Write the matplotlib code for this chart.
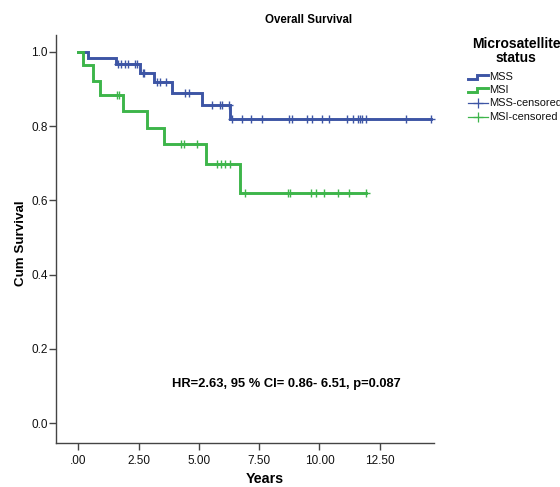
import matplotlib
matplotlib.use("Agg")
import matplotlib.pyplot as plt
from matplotlib.lines import Line2D
import numpy as np

plt.rcParams['font.family'] = ['Liberation Sans', 'DejaVu Sans']

# ---- data ----
mss_times = [0.0, 0.38, 1.54, 2.55, 3.15, 3.87, 5.14, 6.30, 14.61]
mss_surv = [1.0, 0.984, 0.967, 0.942, 0.918, 0.889, 0.857, 0.819, 0.819]
mss_censor = [1.65, 1.75, 1.93, 2.07, 2.34, 2.44, 2.66, 2.72, 3.24, 3.37, 3.63,
              4.42, 4.59, 5.55, 5.87, 5.94, 6.26, 6.38, 6.80, 7.16, 7.63,
              8.74, 8.87, 9.49, 9.70, 10.12, 10.39, 11.13, 11.38, 11.61, 11.68,
              11.78, 11.92, 13.58, 14.61]

msi_times = [0.0, 0.17, 0.59, 0.89, 1.86, 2.85, 3.55, 5.28, 6.70, 11.93]
msi_surv = [1.0, 0.964, 0.922, 0.883, 0.840, 0.796, 0.751, 0.697, 0.619, 0.619]
msi_censor = [1.61, 1.69, 4.24, 4.38, 4.90, 5.73, 5.90, 6.08, 6.29, 6.91,
              8.68, 8.78, 9.65, 9.85, 10.19, 10.77, 11.22, 11.93]

x_ticks = [0, 2.5, 5, 7.5, 10, 12.5]
x_ticklabels = ['.00', '2.50', '5.00', '7.50', '10.00', '12.50']
y_ticks = [0.0, 0.2, 0.4, 0.6, 0.8, 1.0]
y_ticklabels = ['0.0', '0.2', '0.4', '0.6', '0.8', '1.0']

group_labels = ['MSS', 'MSI', 'MSS-censored', 'MSI-censored']
legend_title = 'Microsatellite\nstatus'
annotation = 'HR=2.63, 95 % CI= 0.86- 6.51, p=0.087'

MSS_COLOR = '#3D55A5'
MSI_COLOR = '#3DB54A'

W, H = 560, 487
fig = plt.figure(figsize=(W / 100, H / 100), dpi=100)
L, R, T, B = 56, 434, 35, 443
ax = fig.add_axes([L / W, 1 - B / H, (R - L) / W, (B - T) / H])


def step_value(times, surv, t):
    idx = np.searchsorted(times, t, side='right') - 1
    return np.asarray(surv)[idx]


for times, surv, cens, col in [(mss_times, mss_surv, mss_censor, MSS_COLOR),
                               (msi_times, msi_surv, msi_censor, MSI_COLOR)]:
    ax.step(times, surv, where='post', color=col, lw=2.1, solid_joinstyle='miter',
            clip_on=False)
    cy = step_value(times, surv, cens)
    ax.plot(cens, cy, ls='none', marker='+', ms=6, mew=1.0, color=col, clip_on=False)

ax.set_xlim(-0.93, 14.75)
ax.set_ylim(-0.053, 1.045)
ax.set_xticks(x_ticks)
ax.set_xticklabels(x_ticklabels)
ax.set_yticks(y_ticks)
ax.set_yticklabels(y_ticklabels)
ax.tick_params(axis='both', direction='out', length=5, width=1, color='#444444',
               labelsize=8.5, labelcolor='#111111')
ax.tick_params(axis='y', pad=1)
ax.tick_params(axis='x', pad=4)
for s in ['top', 'right']:
    ax.spines[s].set_visible(False)
for s in ['left', 'bottom']:
    ax.spines[s].set_color('#444444')
    ax.spines[s].set_linewidth(1)

ax.set_ylabel('Cum Survival', fontsize=9.6, fontweight='bold')
ax.yaxis.set_label_coords((27 - L) / (R - L), 0.49)
ax.set_xlabel('Years', fontsize=10.3, fontweight='bold')
ax.xaxis.set_label_coords((265 - L) / (R - L), -(472 - B) / (B - T))

ax.text(3.87, 0.106, annotation, fontsize=9.3, fontweight='bold', va='center', ha='left')

fig.text(309 / W, 1 - 20 / H, 'Overall Survival', fontsize=8.3, fontweight='bold',
         ha='center', va='center')

# ---- legend (drawn in figure pixel space) ----
def fx(x):
    return x / W


def fy(y):
    return 1 - y / H


fig.text(fx(516), fy(51), legend_title, fontsize=10, fontweight='bold',
         ha='center', va='center', linespacing=1.0)

rows_y = [77.3, 90.3, 103.3, 116.5]
for lbl, yy, kind, col in zip(group_labels, rows_y,
                              ['line', 'line', 'cens', 'cens'],
                              [MSS_COLOR, MSI_COLOR, MSS_COLOR, MSI_COLOR]):
    if kind == 'line':
        xs = [468, 477, 477, 488]
        ys = [yy + 2, yy + 2, yy - 2, yy - 2]
        fig.add_artist(Line2D([fx(v) for v in xs], [fy(v) for v in ys],
                              color=col, lw=2.1, solid_joinstyle='miter',
                              transform=fig.transFigure))
    else:
        fig.add_artist(Line2D([fx(468), fx(488)], [fy(yy), fy(yy)], color=col,
                              lw=0.9, transform=fig.transFigure))
        fig.add_artist(Line2D([fx(478)], [fy(yy)], color=col, marker='+', ms=7,
                              mew=0.9, ls='none', transform=fig.transFigure))
    fig.text(fx(489), fy(yy), lbl, fontsize=7.9, ha='left', va='center',
             color='#111111')

fig.savefig('out.png', dpi=100)
